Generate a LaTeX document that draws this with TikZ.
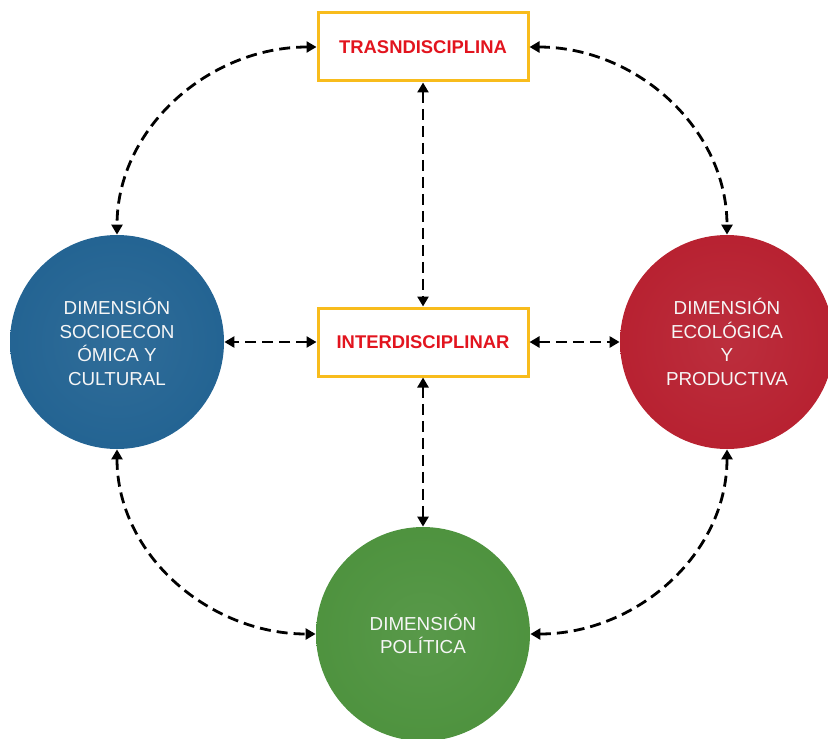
\documentclass[tikz,border=0pt]{standalone}
\usepackage{fontspec}
\setmainfont{Liberation Sans}
\usetikzlibrary{arrows.meta, positioning}

\definecolor{naranja}{RGB}{248,188,28}
\definecolor{rojotxt}{RGB}{226,20,30}
\definecolor{azul}{RGB}{30,96,144}
\definecolor{rojo}{RGB}{182,28,44}
\definecolor{verde}{RGB}{74,144,58}

\pgfdeclareradialshading{bolaazul}{\pgfpoint{0bp}{0bp}}{color(0bp)=(azul!92!white); color(36bp)=(azul); color(50bp)=(azul!72!black)}
\pgfdeclareradialshading{bolaroja}{\pgfpoint{0bp}{0bp}}{color(0bp)=(rojo!92!white); color(36bp)=(rojo); color(50bp)=(rojo!72!black)}
\pgfdeclareradialshading{bolaverde}{\pgfpoint{0bp}{0bp}}{color(0bp)=(verde!92!white); color(36bp)=(verde); color(50bp)=(verde!72!black)}

\begin{document}
\begin{tikzpicture}[x=0.5pt, y=-0.5pt,
	caja/.style={draw=naranja, line width=1.5pt, fill=white, minimum width=105pt, minimum height=34pt, text=rojotxt, font=\bfseries\fontsize{9.2}{11}\selectfont},
	dim/.style={circle, minimum size=107pt, inner sep=0pt, align=center, text=white!93!gray, font=\fontsize{9.4}{11.8}\selectfont},
	flecha/.style={line width=1.4pt, dash pattern=on 5.5pt off 3pt, {Triangle[length=5pt,width=5.5pt]}-{Triangle[length=5pt,width=5.5pt]}}]
	\useasboundingbox (0,0) rectangle (828,738);
	\node[caja] (trans) at (423,47) {TRASNDISCIPLINA};
	\node[caja] (inter) at (423,342) {INTERDISCIPLINAR};
	\node[dim, shading=bolaazul] (socio) at (117,342) {DIMENSIÓN\\SOCIOECON\\ÓMICA Y\\CULTURAL};
	\node[dim, shading=bolaroja] (eco) at (727,342) {DIMENSIÓN\\ECOLÓGICA\\Y\\PRODUCTIVA};
	\node[dim, shading=bolaverde] (poli) at (423,634) {DIMENSIÓN\\POLÍTICA};
	
	\draw[flecha] (trans.west) to[out=180, in=90] (socio.north);
	\draw[flecha] (trans.east) to[out=0, in=90] (eco.north);
	\draw[flecha] (socio.south) to[out=-90, in=180] (poli.west);
	\draw[flecha] (eco.south) to[out=-90, in=0] (poli.east);
	\draw[flecha] (trans.south) -- (inter.north);
	\draw[flecha] (inter.south) -- (poli.north);
	\draw[flecha] (inter.west) -- (socio.east);
	\draw[flecha] (inter.east) -- (eco.west);
\end{tikzpicture}
\end{document}
